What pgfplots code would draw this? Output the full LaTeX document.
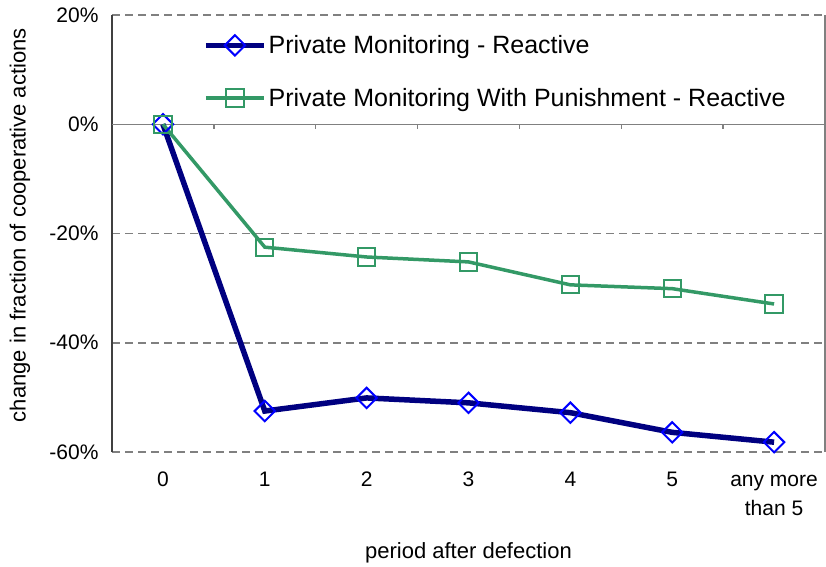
\documentclass[border=0pt]{standalone}
\usepackage{fontspec}
\setmainfont{Liberation Sans}
\usepackage{pgfplots}
\pgfplotsset{compat=1.18}
\definecolor{navy}{HTML}{000080}
\definecolor{mblue}{HTML}{0000FF}
\definecolor{sea}{HTML}{339966}
\definecolor{gridgray}{HTML}{808080}
\begin{document}
\begin{tikzpicture}[x=1pt,y=1pt]
\useasboundingbox (0,0) rectangle (826,566);
\begin{axis}[
  at={(112pt,114pt)}, anchor=south west,
  scale only axis, width=713pt, height=437pt,
  xmin=-0.5, xmax=6.5, ymin=-60, ymax=20,
  clip=false,
  axis line style={draw=none},
  xtick={0,1,2,3,4,5,6},
  xticklabels={{\strut 0},{\strut 1},{\strut 2},{\strut 3},{\strut 4},{\strut 5},{\strut any more\\\strut than 5}},
  x tick style={draw=none},
  xticklabel style={align=center, anchor=north, font=\fontsize{21}{29}\selectfont, yshift=-11pt},
  ytick={-60,-40,-20,0,20},
  yticklabels={-60\%,-40\%,-20\%,0\%,20\%},
  y tick style={draw=none},
  yticklabel style={font=\fontsize{21}{25}\selectfont, anchor=east, xshift=-10pt},
  ymajorgrids,
  grid style={gridgray, line width=1.5pt, dash pattern=on 8pt off 5pt},
  xlabel={period after defection},
  xlabel style={at={(axis description cs:0.5,-0.231)}, anchor=center, font=\fontsize{22}{26}\selectfont},
  ylabel={change in fraction of cooperative actions},
  ylabel style={at={(axis description cs:-0.129,0.519)}, anchor=center, font=\fontsize{22}{26}\selectfont},
  legend style={draw=none, fill=none, inner sep=0pt, nodes={inner sep=2pt},
    at={(axis description cs:0.1276,0.958)}, anchor=north west,
    font=\fontsize{25}{29}\selectfont, row sep=29pt},
  legend cell align=left,
  legend image code/.code={\draw[mark repeat=2,mark phase=2,#1] plot coordinates {(0pt,0pt) (29pt,0pt) (58pt,0pt)};},
]
\draw[black!75, line width=1.5pt] (axis cs:-0.5,-60) -- (axis cs:-0.5,20);
\draw[gridgray, line width=1.2pt] (axis cs:6.5,-60) -- (axis cs:6.5,20);
\draw[gridgray, line width=1.5pt] (axis cs:-0.5,0) -- (axis cs:6.5,0);
\pgfplotsinvokeforeach{0.5,1.5,2.5,3.5,4.5,5.5}{
  \draw[gridgray, line width=1.5pt] (axis cs:#1,0) -- ++(0pt,-5pt);
}
\addplot[navy, line width=5.5pt, mark=square, mark size=7.2pt,
  mark options={rotate=45, draw=mblue, fill=white, line width=2pt, solid}]
  coordinates {(0,0) (1,-52.5) (2,-50.1) (3,-51.0) (4,-52.8) (5,-56.4) (6,-58.2)};
\addlegendentry{Private Monitoring - Reactive}
\addplot[sea, line width=3.5pt, mark=square, mark size=8.6pt,
  mark options={draw=sea, fill=white, line width=2pt, solid}]
  coordinates {(0,0) (1,-22.5) (2,-24.3) (3,-25.2) (4,-29.4) (5,-30.1) (6,-32.9)};
\addlegendentry{Private Monitoring With Punishment - Reactive}
\end{axis}
\end{tikzpicture}
\end{document}
